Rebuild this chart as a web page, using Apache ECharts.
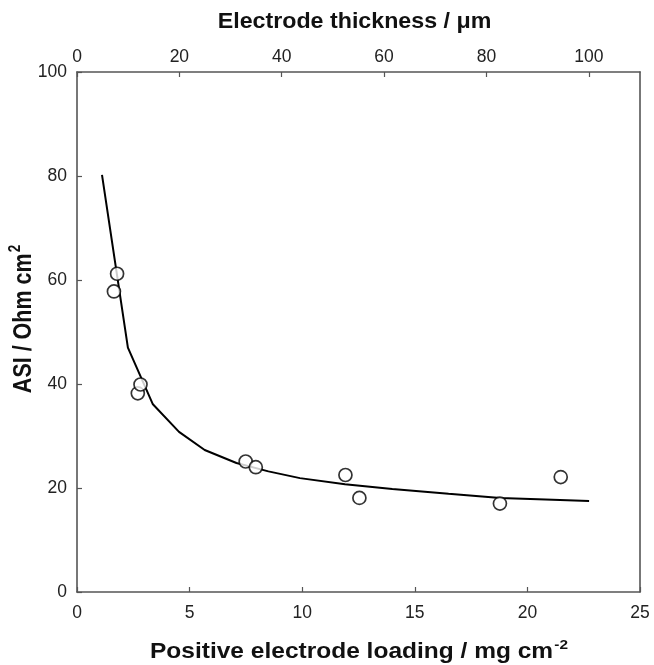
<!DOCTYPE html>
<html><head><meta charset="utf-8">
<script src="https://cdn.jsdelivr.net/npm/echarts@6/dist/echarts.min.js"></script>
<style>html,body{margin:0;padding:0;background:#fff}#c{width:654px;height:665px}</style>
</head><body><div id="c"></div>
<script>
// Measured points: loading (mg cm^-2), ASI (Ohm cm^2)
const pointLoading = [1.64, 1.78, 2.70, 2.82, 7.49, 7.94, 11.92, 12.54, 18.78, 21.48];
const pointASI     = [57.8, 61.2, 38.2, 39.9, 25.1, 24.0, 22.5, 18.1, 17.0, 22.1];
// Fitted curve
const curveLoading = [1.11, 2.26, 3.37, 4.53, 5.67, 7.08, 8.5, 9.9, 11.9, 14.0, 16.5, 18.8, 20.8, 22.74];
const curveASI     = [80.2, 47.0, 36.1, 30.8, 27.3, 24.8, 23.2, 21.9, 20.7, 19.8, 18.9, 18.1, 17.8, 17.5];
const bottomTicks = [0, 5, 10, 15, 20, 25];
const leftTicks = [0, 20, 40, 60, 80, 100];
const topTicks = [0, 20, 40, 60, 80, 100];
const xTitle = 'Positive electrode loading / mg cm{s|-2}';
const topTitle = 'Electrode thickness / μm';
const yTitle = 'ASI / Ohm cm{s|2}';

const font = '"Liberation Sans", Arial, sans-serif';
const axisCol = '#555';
const tickFont = 17.5;
const titleFont = 21.5;
const supStyle = { fontSize: 13.5, fontWeight: 'bold', fontFamily: font, fill: '#111', padding: [0, 0, 14, 1] };

const chart = echarts.init(document.getElementById('c'));
chart.setOption({
  animation: false,
  backgroundColor: '#fff',
  grid: { left: 77, right: 14, top: 72, bottom: 73, containLabel: false },
  xAxis: [
    { type: 'value', position: 'bottom', min: bottomTicks[0], max: bottomTicks[bottomTicks.length-1], interval: 5,
      splitLine: { show: false },
      axisLine: { onZero: false, lineStyle: { color: axisCol, width: 1.6 } },
      axisTick: { inside: true, length: 5, lineStyle: { color: axisCol, width: 1.2 } },
      axisLabel: { color: '#222', fontSize: tickFont, fontFamily: font, margin: 12 }
    },
    { type: 'value', position: 'top', min: 0, max: 110, interval: 20,
      splitLine: { show: false },
      axisLine: { onZero: false, lineStyle: { color: axisCol, width: 1.6 } },
      axisTick: { inside: true, length: 5, lineStyle: { color: axisCol, width: 1.2 } },
      axisLabel: { color: '#222', fontSize: tickFont, fontFamily: font, margin: 6, showMaxLabel: false,
        formatter: v => topTicks.includes(v) ? String(v) : '' }
    }
  ],
  yAxis: [
    { type: 'value', position: 'left', min: leftTicks[0], max: leftTicks[leftTicks.length-1], interval: 20,
      splitLine: { show: false },
      axisLine: { onZero: false, lineStyle: { color: axisCol, width: 1.6 } },
      axisTick: { inside: true, length: 5, lineStyle: { color: axisCol, width: 1.2 } },
      axisLabel: { color: '#222', fontSize: tickFont, fontFamily: font, margin: 10 }
    },
    { type: 'value', position: 'right', min: 0, max: 100,
      splitLine: { show: false },
      axisLine: { show: true, onZero: false, lineStyle: { color: axisCol, width: 1.6 } },
      axisTick: { show: false }, axisLabel: { show: false }
    }
  ],
  graphic: [
    { type: 'text', x: 359, y: 652, scaleX: 1.14,
      style: { text: xTitle, fontSize: titleFont, fontWeight: 'bold', fontFamily: font, fill: '#111',
        align: 'center', verticalAlign: 'middle', rich: { s: supStyle } } },
    { type: 'text', x: 354.5, y: 22, scaleX: 1.08,
      style: { text: topTitle, fontSize: titleFont, fontWeight: 'bold', fontFamily: font, fill: '#111',
        align: 'center', verticalAlign: 'middle' } },
    { type: 'text', x: 24, y: 319, rotation: Math.PI / 2, scaleY: 1.17,
      style: { text: yTitle, fontSize: titleFont, fontWeight: 'bold', fontFamily: font, fill: '#111',
        align: 'center', verticalAlign: 'middle', rich: { s: supStyle } } }
  ],
  series: [
    { type: 'line', xAxisIndex: 0, yAxisIndex: 0, showSymbol: false, symbol: 'none',
      data: curveLoading.map((x, i) => [x, curveASI[i]]),
      lineStyle: { color: '#000', width: 2 }, z: 2 },
    { type: 'scatter', xAxisIndex: 0, yAxisIndex: 0, symbol: 'circle', symbolSize: 13,
      data: pointLoading.map((x, i) => [x, pointASI[i]]),
      itemStyle: { color: '#fff', borderColor: '#000', borderWidth: 1.7 }, z: 3 }
  ]
});
</script></body></html>
